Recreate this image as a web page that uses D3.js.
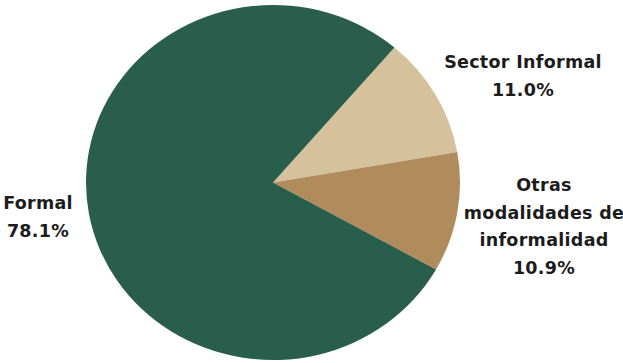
<!DOCTYPE html>
<html>
<head>
<meta charset="utf-8">
<script src="https://cdn.jsdelivr.net/npm/d3@7/dist/d3.min.js"></script>
<style>
  html, body { margin: 0; padding: 0; background: #ffffff; }
  svg { display: block; }
  text { font-family: "DejaVu Sans", sans-serif; font-weight: 700; fill: #1c1c1c; }
</style>
</head>
<body>
<svg id="chart" width="623" height="363"></svg>
<script>
// Distribution of employment by type
const categories = ["Sector Informal", "Otras modalidades de informalidad", "Formal"];
const values = [11.0, 10.9, 78.1];
const colors = ["#d5c29c", "#b08b5c", "#2a5e4c"];
const labelLines = [
  ["Sector Informal", "11.0%"],
  ["Otras", "modalidades de", "informalidad", "10.9%"],
  ["Formal", "78.1%"]
];

const width = 623, height = 363;
const cx = 273, cy = 182.5;
const rx = 187, ry = 177.5;
const startDeg = 40.5;

const svg = d3.select("#chart");

const pie = d3.pie()
  .sort(null)
  .value(d => d)
  .startAngle(startDeg * Math.PI / 180)
  .endAngle((startDeg + 360) * Math.PI / 180);

const arc = d3.arc().innerRadius(0).outerRadius(ry);

const g = svg.append("g")
  .attr("transform", `translate(${cx},${cy}) scale(${rx / ry},1)`);

g.selectAll("path")
  .data(pie(values))
  .join("path")
  .attr("d", arc)
  .attr("fill", (d, i) => colors[i]);

// Label blocks positioned beside their slices
const labelPos = [
  { x: 523, y: 62 },
  { x: 544, y: 185 },
  { x: 38, y: 203 }
];
const lineGap = 27.5;

labelLines.forEach((lines, i) => {
  const t = svg.append("text")
    .attr("text-anchor", "middle")
    .attr("font-size", 17.5)
    .attr("letter-spacing", 0.3);
  lines.forEach((ln, j) => {
    t.append("tspan")
      .attr("x", labelPos[i].x)
      .attr("y", labelPos[i].y + j * lineGap)
      .attr("dy", "0.35em")
      .text(ln);
  });
});
</script>
</body>
</html>
